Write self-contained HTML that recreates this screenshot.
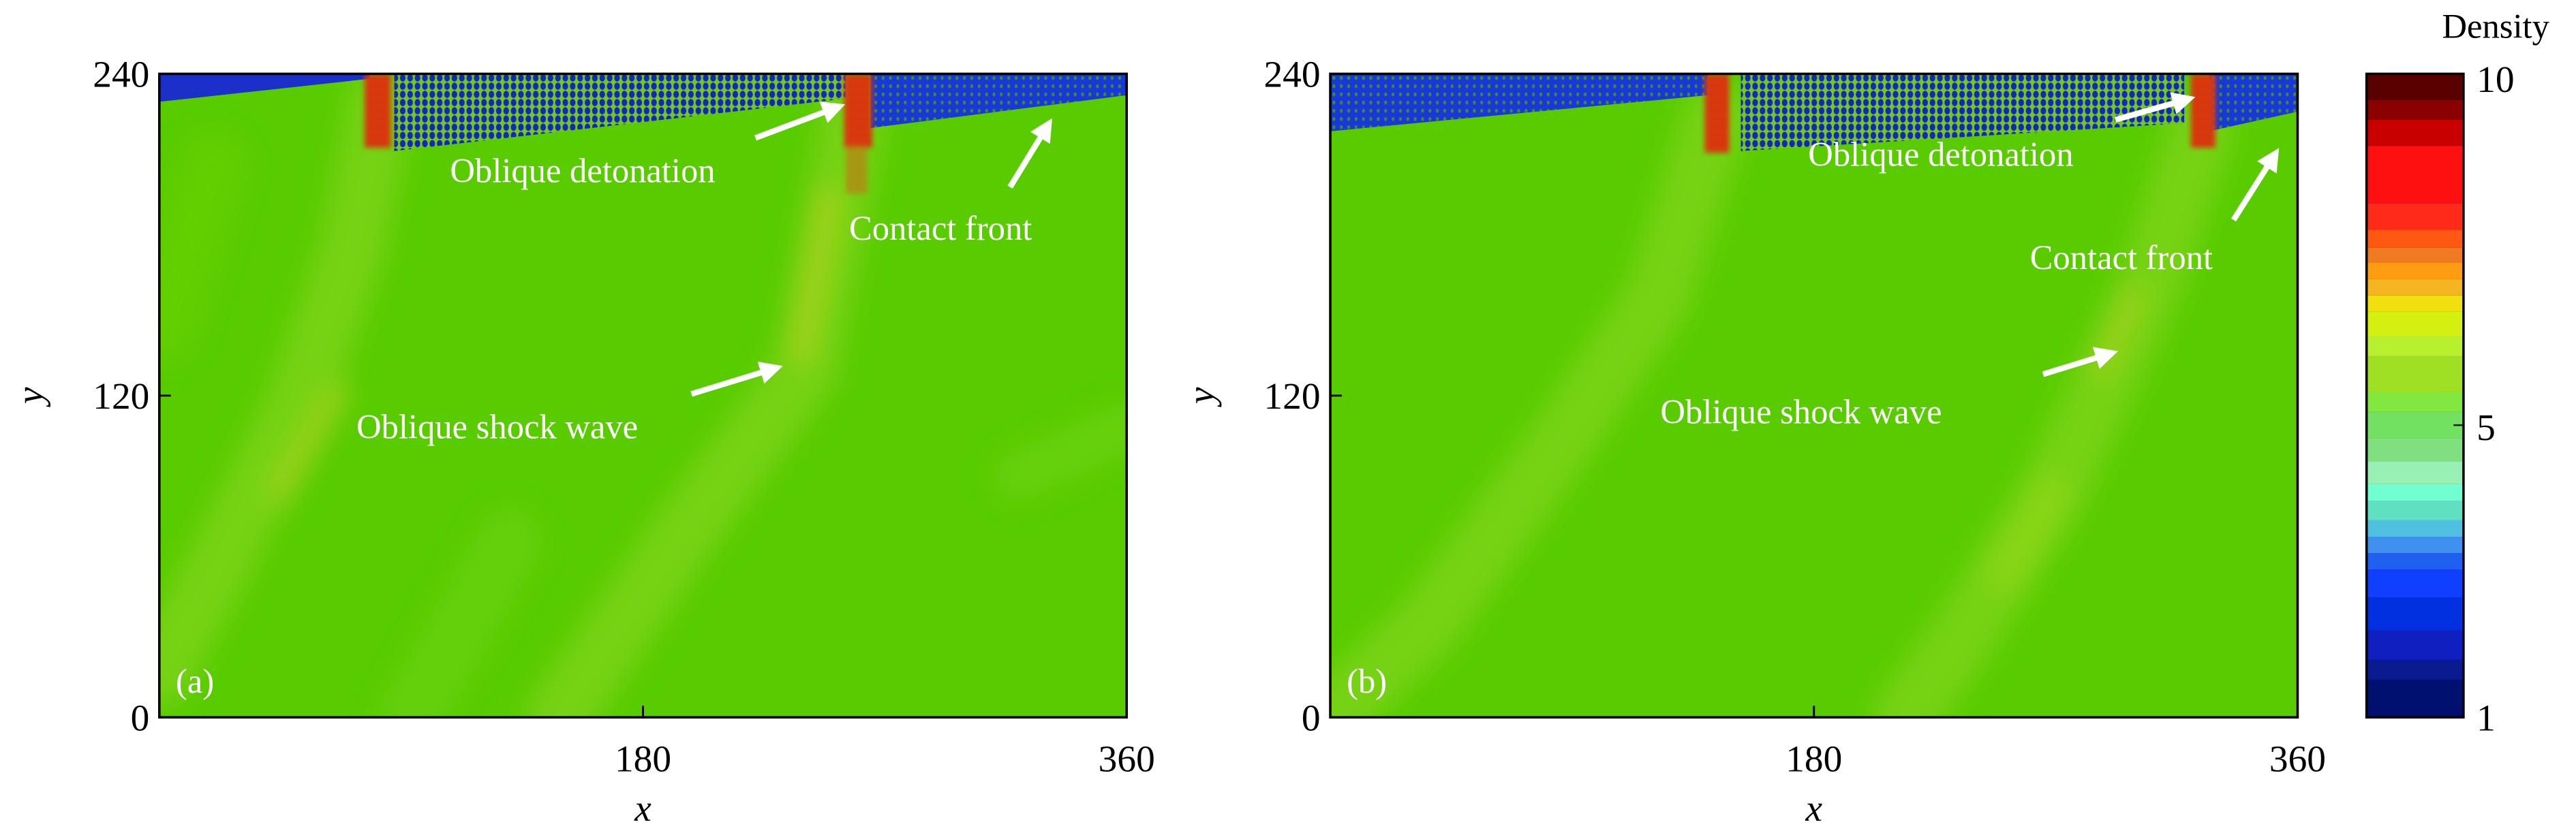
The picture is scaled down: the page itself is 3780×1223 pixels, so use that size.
<!DOCTYPE html>
<html><head><meta charset="utf-8"><style>
html,body{margin:0;padding:0;background:#fff;}
svg{display:block;}
text{font-family:"Liberation Serif",serif;}
</style></head><body>
<svg width="3780" height="1223" viewBox="0 0 1568.5 507.5" xmlns="http://www.w3.org/2000/svg">
<defs>
<filter id="bl" x="-20%" y="-20%" width="140%" height="140%"><feGaussianBlur stdDeviation="8"/></filter>
<filter id="bl2"><feGaussianBlur stdDeviation="1.5"/></filter>
<pattern id="dotsA" width="4.5" height="5" patternUnits="userSpaceOnUse">
<rect width="4.5" height="5" fill="#70c820"/><ellipse cx="2.2" cy="2.5" rx="1.7" ry="2.2" fill="#1428b8"/></pattern>
<pattern id="dotsB" width="4.5" height="5" patternUnits="userSpaceOnUse">
<rect width="4.5" height="5" fill="#1a38d8"/><ellipse cx="2.2" cy="2.5" rx="0.9" ry="1.2" fill="#3a8a40"/></pattern>
<pattern id="dotsR" width="4" height="5" patternUnits="userSpaceOnUse">
<rect width="4" height="5" fill="#e03a10"/><circle cx="2" cy="2.5" r="1" fill="#a02008"/></pattern>
<clipPath id="ca"><rect x="97" y="45" width="589" height="392"/></clipPath>
<clipPath id="cb"><rect x="810" y="45" width="589" height="392"/></clipPath>
<marker id="ar" markerWidth="4" markerHeight="4" refX="2" refY="2" orient="auto"><path d="M0,0 L4,2 L0,4 z" fill="#fff"/></marker>
</defs>

<!-- Panel A -->
<g clip-path="url(#ca)">
<rect x="97" y="45" width="589" height="392" fill="#58cc00"/>
<g filter="url(#bl)" fill="none" stroke-linecap="round">
<polyline points="232,60 215,150 180,250 130,350 97,410" stroke="#80d418" stroke-width="40" opacity="0.75"/>
<polyline points="205,240 170,300" stroke="#a8d020" stroke-width="16" opacity="0.7"/>
<polyline points="520,70 505,150 490,225 420,320 340,437" stroke="#80d418" stroke-width="40" opacity="0.75"/>
<polyline points="505,120 488,215" stroke="#b0d020" stroke-width="14" opacity="0.8"/>
<polyline points="620,290 686,260" stroke="#72d410" stroke-width="30" opacity="0.6"/>
<polyline points="310,330 250,437" stroke="#6cd20c" stroke-width="40" opacity="0.6"/>
<polyline points="130,100 100,200" stroke="#6cd20c" stroke-width="40" opacity="0.5"/>
</g>
<polygon points="97,45 225,45 225,48 97,62" fill="#1a30c8"/>
<polygon points="240,45 515,45 515,60 240,92" fill="url(#dotsA)"/>
<polygon points="530,45 686,45 686,58 530,78" fill="url(#dotsB)"/>
<g filter="url(#bl2)">
<rect x="222" y="45" width="16" height="45" fill="url(#dotsR)"/>
<rect x="514" y="45" width="17" height="45" fill="url(#dotsR)"/>
<rect x="515" y="88" width="13" height="30" fill="#c87010" opacity="0.6"/>
</g>
</g>
<rect x="97" y="45" width="589" height="392" fill="none" stroke="#000" stroke-width="1.5"/>

<!-- Panel B -->
<g clip-path="url(#cb)">
<rect x="810" y="45" width="589" height="392" fill="#58cc00"/>
<g filter="url(#bl)" fill="none" stroke-linecap="round">
<polyline points="1045,70 1010,180 950,270 870,380 810,437" stroke="#80d418" stroke-width="40" opacity="0.75"/>
<polyline points="1340,80 1310,170 1290,215 1250,300 1200,380 1160,437" stroke="#80d418" stroke-width="40" opacity="0.75"/>
<polyline points="1300,180 1280,225" stroke="#b0d020" stroke-width="12" opacity="0.7"/>
<polyline points="1250,300 1220,350" stroke="#98d818" stroke-width="22" opacity="0.6"/>
</g>
<polygon points="810,45 1040,45 1040,58 810,80" fill="url(#dotsB)"/>
<polygon points="1060,45 1330,45 1330,75 1060,92" fill="url(#dotsA)"/>
<polygon points="1345,45 1399,45 1399,68 1345,80" fill="url(#dotsB)"/>
<g filter="url(#bl2)">
<rect x="1038" y="45" width="15" height="48" fill="url(#dotsR)"/>
<rect x="1334" y="45" width="15" height="45" fill="url(#dotsR)"/>
</g>
</g>
<rect x="810" y="45" width="589" height="392" fill="none" stroke="#000" stroke-width="1.5"/>

<!-- ticks -->
<g stroke="#000" stroke-width="1.2">
<line x1="97" y1="241" x2="104" y2="241"/><line x1="391.5" y1="437" x2="391.5" y2="430"/>
<line x1="810" y1="241" x2="817" y2="241"/><line x1="1104.5" y1="437" x2="1104.5" y2="430"/>
</g>
<g font-size="23" fill="#000">
<text x="91" y="53" text-anchor="end">240</text>
<text x="91" y="249" text-anchor="end">120</text>
<text x="91" y="445" text-anchor="end">0</text>
<text x="391.5" y="470" text-anchor="middle">180</text>
<text x="686" y="470" text-anchor="middle">360</text>
<text x="804" y="53" text-anchor="end">240</text>
<text x="804" y="249" text-anchor="end">120</text>
<text x="804" y="445" text-anchor="end">0</text>
<text x="1104.5" y="470" text-anchor="middle">180</text>
<text x="1399" y="470" text-anchor="middle">360</text>
<text x="391.5" y="500" text-anchor="middle" font-style="italic">x</text>
<text x="1104.5" y="500" text-anchor="middle" font-style="italic">x</text>
<text transform="translate(26,241) rotate(-90)" text-anchor="middle" font-style="italic">y</text>
<text transform="translate(739,241) rotate(-90)" text-anchor="middle" font-style="italic">y</text>
</g>

<!-- annotations -->
<g font-size="21" fill="#fff">
<text x="107" y="422">(a)</text>
<text x="820" y="422">(b)</text>
<text x="274" y="111">Oblique detonation</text>
<text x="517" y="146">Contact front</text>
<text x="217" y="267">Oblique shock wave</text>
<text x="1101" y="101">Oblique detonation</text>
<text x="1236" y="164">Contact front</text>
<text x="1011" y="258">Oblique shock wave</text>
</g>
<g stroke="#fff" stroke-width="3.5" marker-end="url(#ar)">
<line x1="460" y1="84" x2="508" y2="66"/>
<line x1="615" y1="114" x2="637" y2="78"/>
<line x1="421" y1="240" x2="470" y2="225"/>
<line x1="1288" y1="73" x2="1330" y2="61"/>
<line x1="1360" y1="134" x2="1384" y2="96"/>
<line x1="1244" y1="228" x2="1283" y2="216"/>
</g>

<!-- colorbar -->
<g>
<rect x="1441" y="45" width="59" height="392" fill="#001070"/>
<rect x="1441" y="45" width="59" height="16" fill="#5a0000"/>
<rect x="1441" y="61" width="59" height="12" fill="#8b0000"/>
<rect x="1441" y="73" width="59" height="16" fill="#c80000"/>
<rect x="1441" y="89" width="59" height="35" fill="#ff1010"/>
<rect x="1441" y="124" width="59" height="16" fill="#ff2a1a"/>
<rect x="1441" y="140" width="59" height="11" fill="#ff5812"/>
<rect x="1441" y="151" width="59" height="9" fill="#f07a22"/>
<rect x="1441" y="160" width="59" height="10" fill="#ff9c10"/>
<rect x="1441" y="170" width="59" height="10" fill="#f5b422"/>
<rect x="1441" y="180" width="59" height="10" fill="#f0e010"/>
<rect x="1441" y="190" width="59" height="15" fill="#d4f010"/>
<rect x="1441" y="205" width="59" height="12" fill="#b8f030"/>
<rect x="1441" y="217" width="59" height="22" fill="#a0e024"/>
<rect x="1441" y="239" width="59" height="12" fill="#82e840"/>
<rect x="1441" y="251" width="59" height="16" fill="#72e060"/>
<rect x="1441" y="267" width="59" height="14" fill="#80e080"/>
<rect x="1441" y="281" width="59" height="14" fill="#98f0b4"/>
<rect x="1441" y="295" width="59" height="10" fill="#70ffd0"/>
<rect x="1441" y="305" width="59" height="12" fill="#60e0c0"/>
<rect x="1441" y="317" width="59" height="10" fill="#50c0e0"/>
<rect x="1441" y="327" width="59" height="10" fill="#4090f0"/>
<rect x="1441" y="337" width="59" height="10" fill="#2060f0"/>
<rect x="1441" y="347" width="59" height="17" fill="#1040ff"/>
<rect x="1441" y="364" width="59" height="20" fill="#0030e0"/>
<rect x="1441" y="384" width="59" height="18" fill="#1020c0"/>
<rect x="1441" y="402" width="59" height="12" fill="#0a1a90"/>
<rect x="1441" y="45" width="59" height="392" fill="none" stroke="#000" stroke-width="1.5"/>
<line x1="1494" y1="259" x2="1500" y2="259" stroke="#000" stroke-width="1"/>
</g>
<g font-size="23" fill="#000">
<text x="1487" y="23" font-size="21">Density</text>
<text x="1508" y="56">10</text>
<text x="1508" y="268">5</text>
<text x="1508" y="445">1</text>
</g>
</svg>
</body></html>
